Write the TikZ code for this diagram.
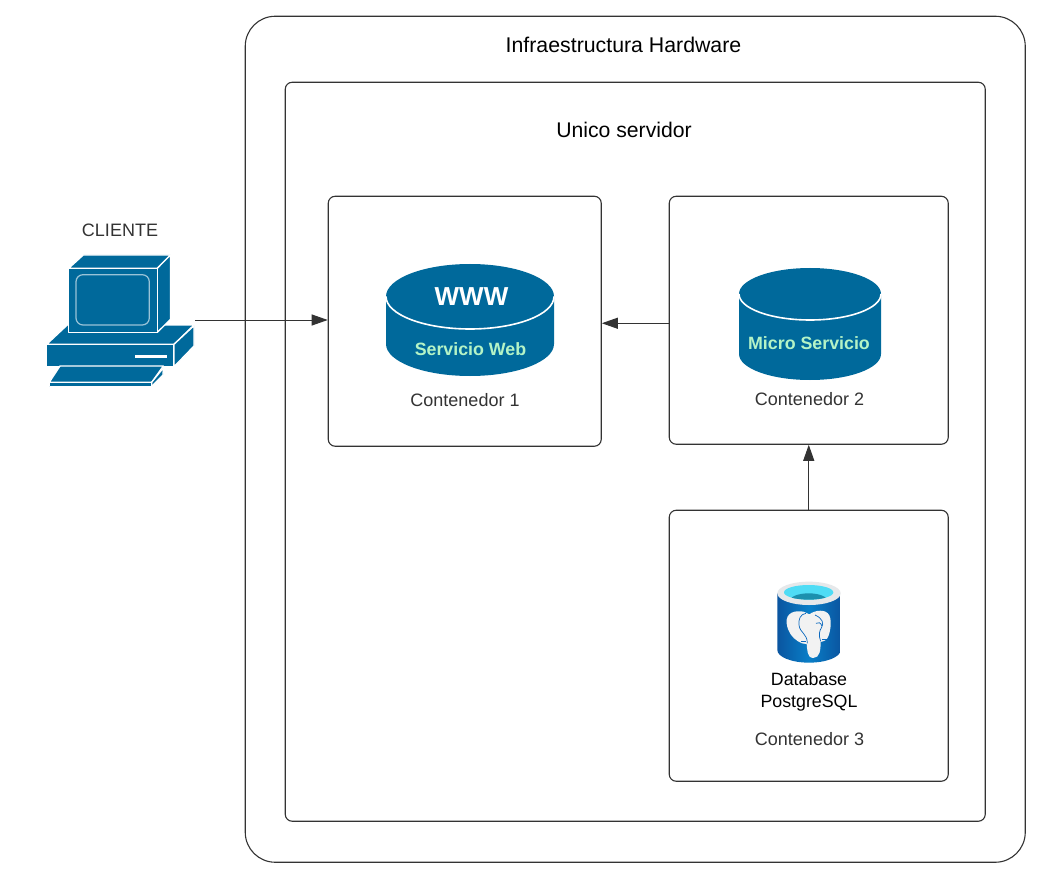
\documentclass[tikz,border=0pt]{standalone}
\usepackage{fontspec}
\setmainfont{Liberation Sans}
\usetikzlibrary{arrows.meta}
\definecolor{ink}{HTML}{333333}
\definecolor{teal1}{HTML}{00699B}
\definecolor{mint}{HTML}{B4F3C6}
\definecolor{pgblue}{HTML}{0A68BE}
\definecolor{pgdark}{HTML}{0A55A0}
\definecolor{pgrim}{HTML}{E6E8EA}
\definecolor{pgcyan}{HTML}{4FDCF5}
\definecolor{pgteal}{HTML}{1C90AE}
\tikzset{
  panel/.style={draw=ink,line width=1.1pt,fill=white,inner sep=0pt,anchor=north west},
  flow/.style={draw=ink,line width=1pt,-{Triangle[length=16pt,width=11pt]}},
  label/.style={text=ink,inner sep=0pt,align=center},
  pc/.style={fill=teal1,draw=white,line width=1.3pt,line join=round},
  cyl/.style={fill=teal1,draw=none},
  mintlabel/.style={text=mint,inner sep=0pt,font=\fontsize{17.8}{20}\selectfont\bfseries}
}
\begin{document}
\begin{tikzpicture}[x=1pt,y=-1pt]
\useasboundingbox (0,0) rectangle (1041,877);
% panels
\node[panel,rounded corners=30pt,minimum width=780pt,minimum height=846pt] (hw) at (244.7,15.7) {};
\node[panel,rounded corners=7pt,minimum width=700pt,minimum height=739pt] (srv) at (284.7,81.7) {};
\node[panel,rounded corners=7pt,minimum width=273pt,minimum height=250pt] (c1) at (327.7,195.7) {};
\node[panel,rounded corners=7pt,minimum width=279pt,minimum height=248pt] (c2) at (668.7,195.7) {};
\node[panel,rounded corners=7pt,minimum width=279pt,minimum height=271pt] (c3) at (668.7,509.7) {};
% titles
\node[label,font=\fontsize{21.3}{24}\selectfont,text=black] (thw) at (623.5,45) {Infraestructura Hardware};
\node[label,font=\fontsize{21.2}{24}\selectfont,text=black] (tsrv) at (624,130) {Unico servidor};
\node[label,font=\fontsize{18}{20}\selectfont] (tcli) at (120,230.5) {CLIENTE};
\node[label,font=\fontsize{18}{20}\selectfont] (tc1) at (465,400) {Contenedor 1};
\node[label,font=\fontsize{18}{20}\selectfont] (tc2) at (809.5,399) {Contenedor 2};
\node[label,font=\fontsize{18}{20}\selectfont] (tc3) at (809.5,739) {Contenedor 3};
\node[label,font=\fontsize{17.8}{22}\selectfont,text=black] (tdb) at (809,692) {Database\\PostgreSQL};
% computer
\path[pc] (46.7,344.3) -- (67.3,325) -- (194,325) -- (174,344.3) -- cycle;
\path[pc] (46.7,344.3) rectangle (174,366.7);
\path[pc] (174,344.3) -- (194,325.7) -- (194,346) -- (174,366.7) -- cycle;
\fill[white] (135,355.3) rectangle (166.7,357.9);
\path[pc] (60,366) -- (163.3,366) -- (151.7,382.3) -- (49.3,382.3) -- cycle;
\path[pc] (49.3,382.3) rectangle (151.7,386.5);
\path[pc] (151.7,382.3) -- (163.3,368) -- (163,375) -- (151.7,386.5) -- cycle;
\path[pc] (68.7,268.3) -- (83.3,255) -- (170.5,255) -- (157.3,268.3) -- cycle;
\path[pc] (157.3,268.3) -- (170.5,255) -- (170.5,319.3) -- (157.3,332.3) -- cycle;
\path[pc] (68.7,268.3) rectangle (157.3,332.3);
\draw[draw=white!60!teal1,line width=1.2pt,rounded corners=7pt] (76,274.7) rectangle (149.3,325);
\coordinate (client) at (195,320);
% web cylinder
\path[cyl] (386,296.5) -- (386,344) arc[start angle=180,end angle=360,x radius=84pt,y radius=32pt] -- (554,296.5) arc[start angle=0,end angle=180,x radius=84pt,y radius=32.5pt] -- cycle;
\draw[white,line width=1.6pt] (386,296.5) arc[start angle=180,end angle=360,x radius=84pt,y radius=32.5pt];
\node[inner sep=0pt,text=white,font=\fontsize{26}{30}\selectfont\bfseries] (www) at (471.5,296.5) {WWW};
\node[mintlabel] (tweb) at (470.5,349) {Servicio Web};
% micro cylinder
\path[cyl] (739,294) -- (739,354) arc[start angle=180,end angle=360,x radius=71pt,y radius=26pt] -- (881,294) arc[start angle=0,end angle=180,x radius=71pt,y radius=26pt] -- cycle;
\draw[white,line width=1.6pt] (739,294) arc[start angle=180,end angle=360,x radius=71pt,y radius=26pt];
\node[mintlabel] (tms) at (809,343) {Micro Servicio};
% postgres icon
\begin{scope}[shift={(750,570)},x=0.3333pt,y=-0.3333pt]
\shade[left color=pgdark,right color=pgdark,middle color=pgblue!85!cyan] (82,70) -- (82,240) arc[start angle=180,end angle=360,x radius=31.67pt,y radius=12.67pt] -- (272,70) -- cycle;
\fill[pgrim] (177,70) ellipse[x radius=31.67pt,y radius=11.67pt];
\fill[pgcyan] (176,67) ellipse[x radius=24.67pt,y radius=7.33pt];
\begin{scope}
\clip (176,67) ellipse[x radius=24.67pt,y radius=7.33pt];
\fill[pgteal] (176,92) ellipse[x radius=18.67pt,y radius=7.33pt];
\end{scope}
\fill[white!95!black] (110,160) .. controls (106,128) and (135,120) .. (160,125)
  .. controls (168,127) and (172,131) .. (178,133)
  .. controls (195,120) and (228,116) .. (238,136)
  .. controls (247,155) and (240,192) .. (232,205)
  .. controls (226,214) and (216,214) .. (212,216)
  .. controls (212,238) and (210,264) .. (190,264)
  .. controls (170,264) and (172,236) .. (170,222)
  .. controls (160,222) and (152,220) .. (144,214)
  .. controls (126,203) and (113,185) .. (110,160) -- cycle;
\draw[pgblue,line width=0.7pt] (168,130) .. controls (150,132) and (145,150) .. (147,165) .. controls (150,190) and (172,190) .. (172,220);
\draw[pgblue,line width=0.7pt] (195,135) .. controls (218,145) and (222,160) .. (215,172) .. controls (208,182) and (205,195) .. (212,214);
\draw[pgblue,line width=0.7pt] (198,160) .. controls (205,155) and (212,158) .. (216,168);
\fill[pgblue] (153,212) rectangle (168,215);
\fill[pgblue] (216,208) rectangle (232,211);
\end{scope}
% connectors
\draw[flow] (client) -- (c1.west |- client);
\draw[flow] ([yshift=-3pt]c2.west) -- ([yshift=-3pt]c2.west -| c1.east);
\draw[flow] (c3.north) -- (c2.south);
\end{tikzpicture}
\end{document}
